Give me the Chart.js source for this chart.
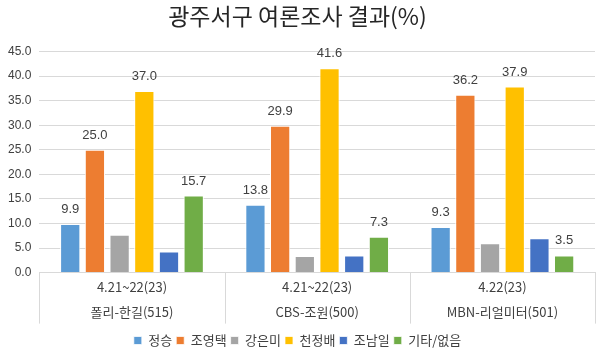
<!DOCTYPE html>
<html>
<head>
<meta charset="utf-8">
<script src="https://cdn.jsdelivr.net/npm/chart.js@4"></script>
<style>
  html, body { margin: 0; padding: 0; background: #fff; }
  #wrap { width: 600px; height: 350px; }
</style>
</head>
<body>
<div id="wrap"><canvas id="c"></canvas></div>
<script>
// survey dates and pollster (sample size)
const dates = ['4.21~22(23)', '4.21~22(23)', '4.22(23)'];
const polls = ['폴리-한길(515)', 'CBS-조원(500)', 'MBN-리얼미터(501)'];

const candidates = ['정승', '조영택', '강은미', '천정배', '조남일', '기타/없음'];
const colors = ['#5B9BD5', '#ED7D31', '#A5A5A5', '#FFC000', '#4472C4', '#70AD47'];

const jeongSeung = [9.9, 13.8, 9.3];
const joYoungtaek = [25.0, 29.9, 36.2];
const kangEunmi = [7.7, 3.4, 6.0];
const cheonJeongbae = [37.0, 41.6, 37.9];
const joNamil = [4.3, 3.5, 7.0];
const others = [15.7, 7.3, 3.5];

const seriesValues = [jeongSeung, joYoungtaek, kangEunmi, cheonJeongbae, joNamil, others];
// only these series carry a value label in the original
const labelled = [true, true, false, true, false, true];

const yTicks = { min: 0, max: 45, step: 5 };

const FONT = "'Liberation Sans', 'Noto Sans CJK KR', sans-serif";
const KFONT = "'Noto Sans CJK KR', 'Liberation Sans', sans-serif";

// value labels above bars
const barLabels = {
    id: 'barLabels',
    afterDatasetsDraw(chart) {
        const { ctx } = chart;
        ctx.save();
        ctx.font = '13px ' + FONT;
        ctx.fillStyle = '#404040';
        ctx.textAlign = 'center';
        ctx.textBaseline = 'bottom';
        chart.data.datasets.forEach((ds, i) => {
            if (!labelled[i]) return;
            chart.getDatasetMeta(i).data.forEach((bar, j) => {
                ctx.fillText(ds.data[j].toFixed(1), bar.x, bar.y - 8);
            });
        });
        ctx.restore();
    }
};

// vertical separators between the category groups, through the label rows
const groupLines = {
    id: 'groupLines',
    afterDraw(chart) {
        const { ctx, chartArea } = chart;
        const n = chart.data.labels.length;
        const w = (chartArea.right - chartArea.left) / n;
        ctx.save();
        ctx.strokeStyle = '#d9d9d9';
        ctx.lineWidth = 1;
        ctx.beginPath();
        for (let i = 0; i <= n; i++) {
            const px = Math.round(chartArea.left + i * w) + 0.5;
            ctx.moveTo(px, chartArea.bottom);
            ctx.lineTo(px, chartArea.bottom + 51);
        }
        ctx.stroke();
        ctx.restore();
    }
};

new Chart(document.getElementById('c'), {
    type: 'bar',
    data: {
        labels: dates.map((d, i) => [d, polls[i]]),
        datasets: candidates.map((name, i) => ({
            label: name,
            data: seriesValues[i],
            backgroundColor: colors[i],
            borderColor: '#ffffff',
            borderWidth: { top: 1, left: 1, right: 1, bottom: 0 },
            categoryPercentage: 0.8,
            barPercentage: 0.82,
        })),
    },
    options: {
        responsive: true,
        maintainAspectRatio: false,
        animation: false,
        layout: { padding: { left: 0, right: 5, top: 0, bottom: -7 } },
        plugins: {
            title: {
                display: true,
                text: '광주서구 여론조사 결과(%)',
                color: '#262626',
                font: { family: KFONT, size: 23, weight: 'normal' },
                padding: { top: 2, bottom: 22 },
            },
            legend: {
                position: 'bottom',
                labels: {
                    color: '#404040',
                    font: { family: KFONT, size: 13 },
                    boxWidth: 8,
                    boxHeight: 8,
                    padding: 4,
                },
            },
            tooltip: { enabled: false },
        },
        scales: {
            x: {
                grid: { display: false, drawTicks: false },
                border: { color: '#d9d9d9' },
                afterFit: scale => { scale.height += 4; },
                ticks: {
                    color: '#404040',
                    padding: 2,
                    font: { family: KFONT, size: 13, lineHeight: 1.9 },
                },
            },
            y: {
                min: yTicks.min,
                max: yTicks.max,
                grid: { color: '#d9d9d9', drawTicks: false },
                border: { display: false },
                ticks: {
                    stepSize: yTicks.step,
                    color: '#404040',
                    padding: 8,
                    font: { family: FONT, size: 12 },
                    callback: v => v.toFixed(1),
                },
            },
        },
    },
    plugins: [barLabels, groupLines],
});
</script>
</body>
</html>
